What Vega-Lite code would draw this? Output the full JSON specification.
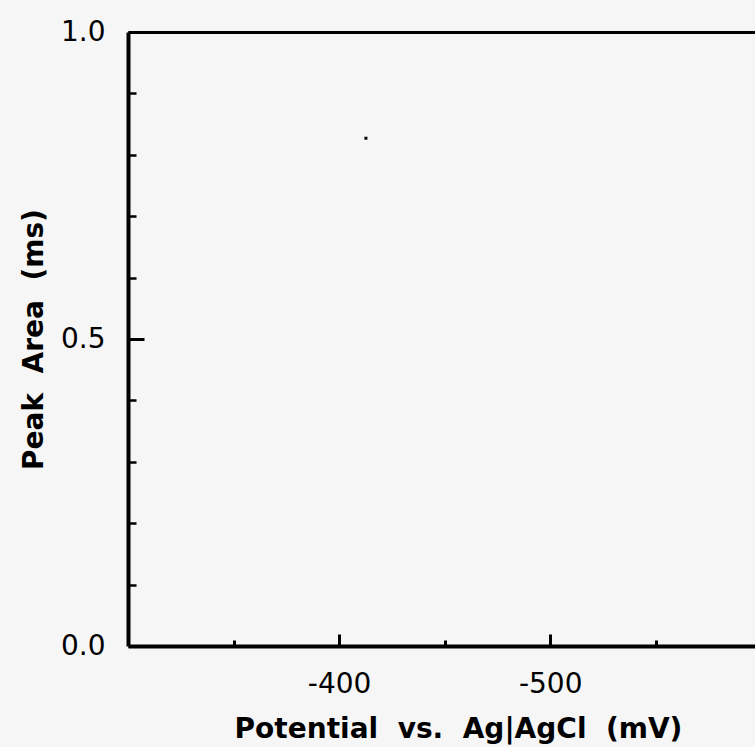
{
  "$schema": "https://vega.github.io/schema/vega-lite/v6.json",
  "width": 627,
  "height": 614,
  "autosize": {"type": "none"},
  "padding": {"left": 128, "top": 32, "right": 0, "bottom": 101},
  "background": "#f6f6f6",
  "config": {
    "view": {"stroke": null},
    "axis": {"grid": false, "labelFlush": false, "labelOverlap": false, "labelBound": false, "domainColor": "black", "tickColor": "black", "labelColor": "black", "titleColor": "black", "labelFont": "DejaVu Sans", "labelFontSize": 28, "titleFont": "DejaVu Sans", "titleFontSize": 28, "titleFontWeight": "bold"}
  },
  "data": {"values": [{"potential": -412.7, "area": 0.827}]},
  "layer": [
    {
      "mark": {"type": "point", "shape": "square", "size": 9, "filled": true, "color": "black", "opacity": 1},
      "encoding": {
        "x": {"field": "potential", "type": "quantitative", "scale": {"domain": [-300, -597], "nice": false, "zero": false},
          "axis": {"orient": "bottom", "values": [-400, -500], "labelExpr": "'' + datum.value", "ticks": false, "domainWidth": 4, "labelPadding": 24, "labelBaseline": "top", "labelAlign": "center",
            "title": "Potential\u00a0 vs.\u00a0 Ag|AgCl\u00a0 (mV)", "titleX": 330, "titleY": 91, "titleAlign": "center", "titleBaseline": "alphabetic"}},
        "y": {"field": "area", "type": "quantitative", "scale": {"domain": [0, 1], "nice": false, "zero": false},
          "axis": {"orient": "left", "values": [0, 0.5, 1], "format": ".1f", "ticks": false, "domainWidth": 4, "labelPadding": 23, "labelBaseline": "middle",
            "title": "Peak\u00a0 Area\u00a0 (ms)", "titleX": -86, "titleY": 307, "titleAngle": 270, "titleAlign": "center", "titleBaseline": "alphabetic"}}
      }
    },
    {
      "mark": {"type": "point", "opacity": 0},
      "encoding": {
        "x": {"field": "potential", "type": "quantitative", "axis": {"orient": "bottom", "values": [-400, -500, -600], "domain": false, "labels": false, "title": null, "ticks": true, "tickSize": -12, "tickWidth": 3}},
        "y": {"field": "area", "type": "quantitative", "axis": {"orient": "left", "values": [0, 0.5, 1], "domain": false, "labels": false, "title": null, "ticks": true, "tickSize": -16, "tickWidth": 3}}
      }
    },
    {
      "mark": {"type": "point", "opacity": 0},
      "encoding": {
        "x": {"field": "potential", "type": "quantitative", "axis": {"orient": "bottom", "values": [-350, -450, -550], "domain": false, "labels": false, "title": null, "ticks": true, "tickSize": -6, "tickWidth": 3}},
        "y": {"field": "area", "type": "quantitative", "axis": {"orient": "left", "values": [0.1, 0.2, 0.3, 0.4, 0.6, 0.7, 0.8, 0.9], "domain": false, "labels": false, "title": null, "ticks": true, "tickSize": -8, "tickWidth": 2.5}}
      }
    },
    {
      "mark": {"type": "point", "opacity": 0},
      "encoding": {
        "x": {"field": "potential", "type": "quantitative", "axis": {"orient": "top", "domain": true, "domainWidth": 3, "labels": false, "ticks": false, "title": null}},
        "y": {"field": "area", "type": "quantitative", "axis": null}
      }
    }
  ],
  "resolve": {"axis": {"x": "independent", "y": "independent"}}
}
